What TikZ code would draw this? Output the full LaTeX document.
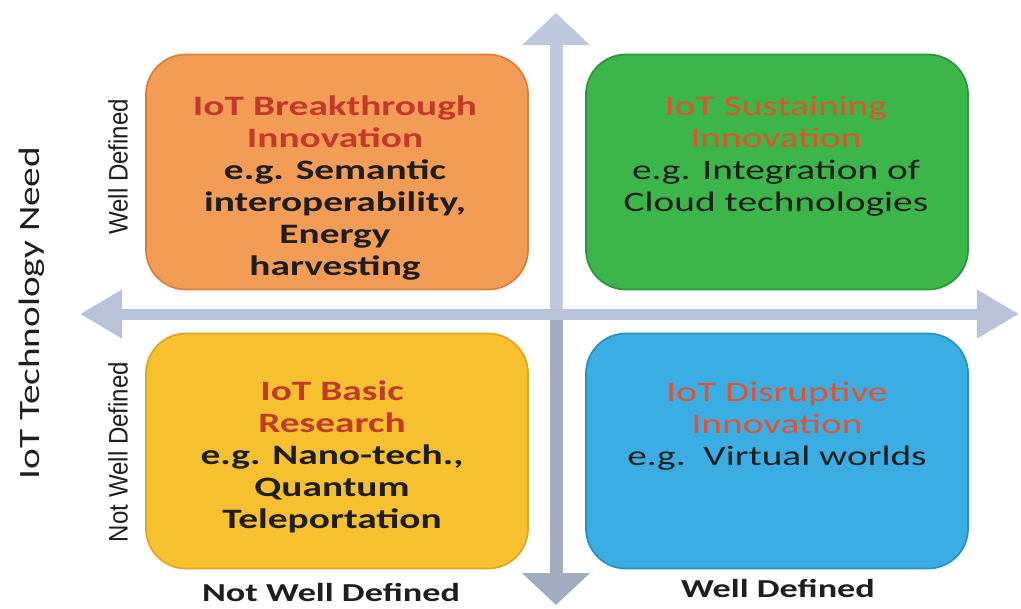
\documentclass[tikz,border=0pt]{standalone}
\usepackage{fontspec}
\usetikzlibrary{arrows.meta}
\newfontfamily\quadfont[FakeStretch=1.4]{Carlito}
\newfontfamily\needfont[FakeStretch=1.33]{Carlito}
\newfontfamily\sidefont[FakeStretch=0.9]{Liberation Sans}
\definecolor{orangefill}{HTML}{F39C55}
\definecolor{orangeedge}{HTML}{DC7C38}
\definecolor{greenfill}{HTML}{3CB54B}
\definecolor{greenedge}{HTML}{2A963A}
\definecolor{yellowfill}{HTML}{F6C02E}
\definecolor{yellowedge}{HTML}{E0A51E}
\definecolor{bluefill}{HTML}{3AAEE3}
\definecolor{blueedge}{HTML}{2590C6}
\definecolor{axisblue}{HTML}{B8C3D9}
\definecolor{axislight}{HTML}{BFC9DD}
\definecolor{axisdark}{HTML}{A2ACBE}
\definecolor{titlered}{HTML}{C43A2A}
\definecolor{titleorange}{HTML}{E4512C}
\definecolor{bodyblack}{HTML}{1E1E1E}
\begin{document}
\begin{tikzpicture}[x=0.025cm,y=-0.025cm,
	quad/.style={rounded corners=1cm,minimum width=9.55cm,minimum height=5.875cm,line width=1.2pt},
	quadtext/.style={align=center,inner sep=0pt,text=bodyblack,font=\quadfont\fontsize{20}{22.76}\selectfont},
	sidelabel/.style={rotate=90,inner sep=0pt,text=bodyblack}]
	\useasboundingbox (0,0) rectangle (1021,608);
	% axes
	\coordinate (top) at (556,13);
	\coordinate (middle) at (556,314);
	\coordinate (bottom) at (556,605);
	\coordinate (left) at (80,314);
	\coordinate (right) at (1019,314);
	\draw[line width=0.325cm,draw=axislight,{Triangle[width=1.65cm,length=0.8cm]}-] (top) -- (middle);
	\draw[line width=0.325cm,draw=axisdark,{Triangle[width=1.65cm,length=0.8cm]}-] (bottom) -- (middle);
	\draw[line width=0.275cm,draw=axisblue,{Triangle[width=1.15cm,length=1.05cm]}-{Triangle[width=1.15cm,length=1.05cm]}] (left) -- (right);
	% quadrants
	\node[quad,fill=orangefill,draw=orangeedge] (breakthrough) at (337,172){};
	\node[quad,fill=greenfill,draw=greenedge] (sustaining) at (777,172){};
	\node[quad,fill=yellowfill,draw=yellowedge] (basic) at (337,451){};
	\node[quad,fill=bluefill,draw=blueedge] (disruptive) at (777,451){};
	\node[quadtext] (breakthroughtext) at (335,188){{\bfseries\color{titlered}IoT Breakthrough}\\{\bfseries\color{titlered}Innovation}\\\bfseries e.g. Semantic\\\bfseries interoperability,\\\bfseries Energy\\\bfseries harvesting};
	\node[quadtext] (sustainingtext) at (776,156){{\color{titleorange}IoT Sustaining}\\{\color{titleorange}Innovation}\\e.g. Integration of\\Cloud technologies};
	\node[quadtext] (basictext) at (332,457){{\bfseries\color{titlered}IoT Basic}\\{\bfseries\color{titlered}Research}\\\bfseries e.g. Nano-tech.,\\\bfseries Quantum\\\bfseries Teleportation};
	\node[quadtext] (disruptivetext) at (777,426){{\color{titleorange}IoT Disruptive}\\{\color{titleorange}Innovation}\\e.g.\ \ Virtual worlds};
	% axis labels
	\node[sidelabel,font=\needfont\fontsize{21}{22}\selectfont] (need) at (32,313){IoT Technology Need};
	\node[sidelabel,font=\sidefont\fontsize{19}{20}\selectfont] (welldef) at (118,167){Well Defined};
	\node[sidelabel,font=\sidefont\fontsize{19}{20}\selectfont] (notwelldef) at (118,452){Not Well Defined};
	\node[inner sep=0pt,text=bodyblack,font=\quadfont\bfseries\fontsize{18.4}{20}\selectfont] (xnot) at (331,592){Not Well Defined};
	\node[inner sep=0pt,text=bodyblack,font=\quadfont\bfseries\fontsize{18.4}{20}\selectfont] (xwell) at (778,588){Well Defined};
\end{tikzpicture}
\end{document}
